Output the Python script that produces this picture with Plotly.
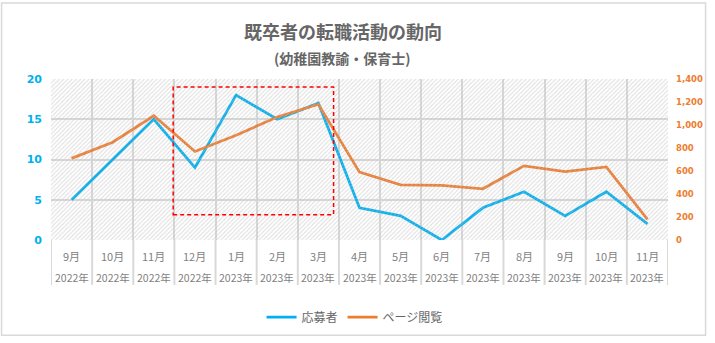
import plotly.graph_objects as go

months = ["9月", "10月", "11月", "12月", "1月", "2月", "3月", "4月", "5月", "6月",
          "7月", "8月", "9月", "10月", "11月"]
years = ["2022年", "2022年", "2022年", "2022年", "2023年", "2023年", "2023年", "2023年",
         "2023年", "2023年", "2023年", "2023年", "2023年", "2023年", "2023年"]
applicants = [5, 10, 15, 9, 18, 15, 17, 4, 3, 0, 4, 6, 3, 6, 2]
page_views = [710, 850, 1080, 770, 910, 1070, 1180, 590, 480, 475, 445, 645, 595, 635, 180]

title = "既卒者の転職活動の動向"
subtitle = "(幼稚園教諭・保育士)"

W, H = 715, 343
L, R, T, B = 51, 40, 79, 99
PW, PH = W - L - R, H - T - B

def px_x(px):
    return (px - L) / PW

def px_y(py):
    return (H - B - py) / PH

# unique category keys (same month names repeat across years)
cats = [f"{m}|{y}|{i}" for i, (m, y) in enumerate(zip(months, years))]
n = len(cats)

GRAY_TXT = "#7F7F7F"
BLUE = "#00B0F0"
ORANGE = "#ED7D31"
GRID = "#D9D9D9"
JP = "Noto Sans CJK JP"

fig = go.Figure()

# hatched plot-area background on a hidden linear x axis
fig.add_trace(go.Scatter(
    x=[-0.5, n - 0.5, n - 0.5, -0.5, -0.5], y=[0, 0, 20, 20, 0],
    xaxis="x2", yaxis="y", mode="none", fill="toself",
    fillcolor="rgba(0,0,0,0)",
    fillpattern=dict(shape="/", fgcolor="#BFBFBF", bgcolor="rgba(0,0,0,0)",
                     size=3, solidity=0.35),
    hoverinfo="skip", showlegend=False))

fig.add_trace(go.Scatter(x=cats, y=applicants, name="応募者", mode="lines",
                         line=dict(color=BLUE, width=2.75), yaxis="y"))
fig.add_trace(go.Scatter(x=cats, y=page_views, name="ページ閲覧", mode="lines",
                         line=dict(color=ORANGE, width=2.75), yaxis="y2"))

annotations = [
    dict(text=f"<b>{title}</b>", xref="paper", yref="paper", x=px_x(346), y=px_y(30),
         showarrow=False, font=dict(family=JP, size=18, color="#666666"),
         xanchor="center", yanchor="middle"),
    dict(text=f"<b>{subtitle}</b>", xref="paper", yref="paper", x=px_x(346), y=px_y(57),
         showarrow=False, font=dict(family=JP, size=14, color="#666666"),
         xanchor="center", yanchor="middle"),
]
for c, m, y in zip(cats, months, years):
    annotations.append(dict(text=m, xref="x", yref="paper", x=c, y=px_y(260),
                            showarrow=False, font=dict(family=JP, size=11, color=GRAY_TXT),
                            xanchor="center", yanchor="middle"))
    annotations.append(dict(text=y, xref="x", yref="paper", x=c, y=px_y(282),
                            showarrow=False, font=dict(family=JP, size=10.5, color=GRAY_TXT),
                            xanchor="center", yanchor="middle"))

shapes = []
for i in range(n + 1):
    shapes.append(dict(type="line", xref="x2", yref="paper", x0=i - 0.5, x1=i - 0.5,
                       y0=0, y1=px_y(290), line=dict(color=GRID, width=2)))
# dashed highlight box
shapes.append(dict(type="rect", xref="x2", yref="y", x0=2.47, x1=6.37, y0=3.15, y1=19.0,
                   line=dict(color="#FF0000", width=1.5, dash="4px,3px"), layer="above"))
# outer border
shapes.append(dict(type="rect", xref="paper", yref="paper",
                   x0=px_x(1), x1=px_x(713), y0=px_y(341.5), y1=px_y(1),
                   line=dict(color=GRID, width=1.5)))

fig.update_layout(
    width=W, height=H,
    margin=dict(l=L, r=R, t=T, b=B, pad=0),
    paper_bgcolor="white", plot_bgcolor="white",
    xaxis=dict(type="category", categoryorder="array", categoryarray=cats,
               range=[-0.5, n - 0.5], tickson="boundaries", showgrid=True,
               gridcolor=GRID, gridwidth=2, showticklabels=False, ticks="",
               zeroline=False, showline=False, fixedrange=True),
    xaxis2=dict(overlaying="x", range=[-0.5, n - 0.5], visible=False, showgrid=False),
    yaxis=dict(range=[0, 20], dtick=5, showgrid=True, gridcolor=GRID, gridwidth=2,
               zeroline=False, ticks="", ticklabelstandoff=8,
               tickfont=dict(family="DejaVu Sans", size=11, color=BLUE, weight="bold")),
    yaxis2=dict(range=[0, 1400], dtick=200, overlaying="y", side="right",
                showgrid=False, zeroline=False, ticks="", tickformat=",",
                ticklabelstandoff=7,
                tickfont=dict(family="DejaVu Sans", size=8.5, color=ORANGE, weight="bold")),
    legend=dict(orientation="h", x=px_x(358), xanchor="center", y=px_y(323),
                yanchor="middle", font=dict(family=JP, size=12, color="#666666"),
                itemwidth=30, bgcolor="rgba(0,0,0,0)"),
    annotations=annotations,
    shapes=shapes,
)

fig.write_html("out.html")
